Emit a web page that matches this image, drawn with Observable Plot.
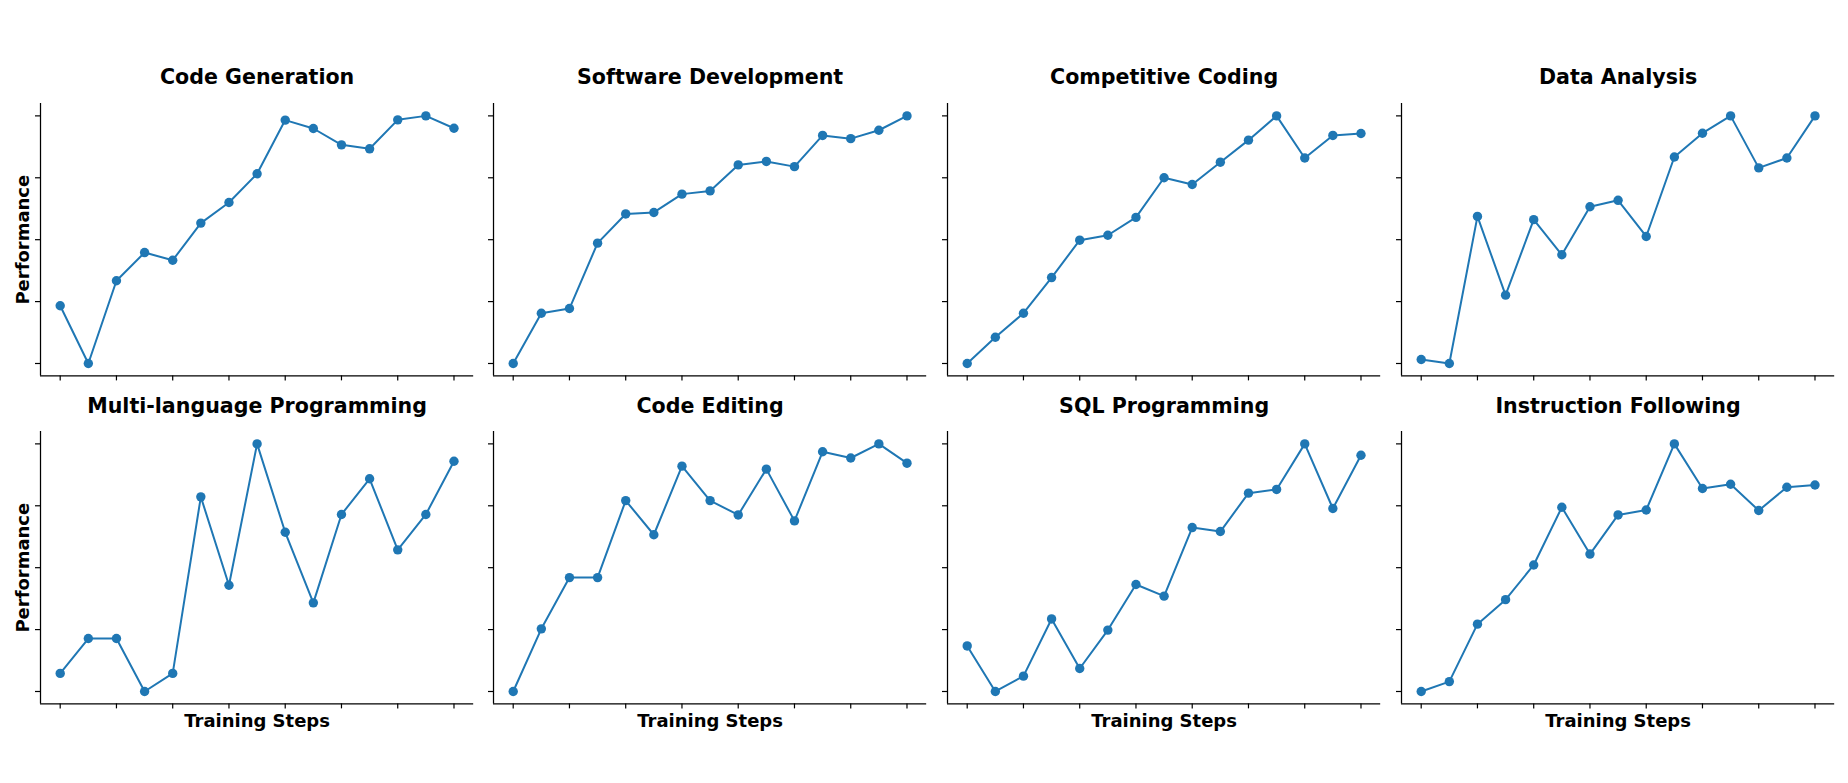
<!DOCTYPE html>
<html>
<head>
<meta charset="utf-8">
<script src="https://cdn.jsdelivr.net/npm/d3@7"></script>
<script src="https://cdn.jsdelivr.net/npm/@observablehq/plot@0.6"></script>
<style>
  html, body { margin: 0; padding: 0; background: #fff; }
  #chart { position: relative; width: 1848px; height: 783px; background: #fff; overflow: hidden; }
  #chart svg { position: absolute; overflow: visible; }
</style>
</head>
<body>
<div id="chart"></div>
<script>
// ---- data ----
const titles = [
  "Code Generation", "Software Development", "Competitive Coding", "Data Analysis",
  "Multi-language Programming", "Code Editing", "SQL Programming", "Instruction Following"
];
const steps = [0, 1, 2, 3, 4, 5, 6, 7, 8, 9, 10, 11, 12, 13, 14];
const codeGeneration      = [0.233, 0.000, 0.334, 0.448, 0.417, 0.567, 0.650, 0.766, 0.983, 0.949, 0.883, 0.867, 0.984, 1.000, 0.950];
const softwareDevelopment = [0.000, 0.203, 0.222, 0.486, 0.604, 0.610, 0.684, 0.697, 0.802, 0.816, 0.795, 0.921, 0.908, 0.942, 1.000];
const competitiveCoding   = [0.000, 0.106, 0.203, 0.347, 0.498, 0.518, 0.590, 0.750, 0.723, 0.813, 0.902, 1.000, 0.830, 0.921, 0.929];
const dataAnalysis        = [0.016, 0.000, 0.594, 0.276, 0.581, 0.439, 0.633, 0.659, 0.513, 0.834, 0.930, 1.000, 0.790, 0.830, 1.000];
const multiLanguage       = [0.073, 0.214, 0.214, 0.000, 0.073, 0.786, 0.429, 1.000, 0.643, 0.358, 0.715, 0.859, 0.572, 0.715, 0.930];
const codeEditing         = [0.000, 0.253, 0.460, 0.460, 0.771, 0.633, 0.910, 0.771, 0.713, 0.898, 0.689, 0.968, 0.943, 1.000, 0.922];
const sqlProgramming      = [0.184, 0.000, 0.062, 0.293, 0.093, 0.248, 0.432, 0.385, 0.662, 0.646, 0.801, 0.816, 1.000, 0.739, 0.954];
const instructionFollowing= [0.000, 0.040, 0.272, 0.371, 0.511, 0.744, 0.555, 0.713, 0.733, 1.000, 0.820, 0.837, 0.731, 0.825, 0.834];
const seriesList = [codeGeneration, softwareDevelopment, competitiveCoding, dataAnalysis,
                    multiLanguage, codeEditing, sqlProgramming, instructionFollowing];
const xTicks = [0, 2, 4, 6, 8, 10, 12, 14];
const yTicks = [0, 0.25, 0.5, 0.75, 1];
const yLabel = "Performance";
const xLabel = "Training Steps";

// ---- layout ----
const xDomain = [-0.7, 14.7];
const yDomain = [-0.05, 1.05];
const colLeft = [39.5, 493.3, 946.8, 1401];
const rowTop = [102.7, 430.7];
const plotW = 433.2;
const plotH = 272.4;
const color = "#1f77b4";
const font = "DejaVu Sans, sans-serif";

const container = document.getElementById("chart");

seriesList.forEach((vals, k) => {
  const row = Math.floor(k / 4), col = k % 4;
  const ML = col === 0 ? 40 : 12, MR = 6, MT = 50, MB = 45;
  const table = vals.map((v, i) => ({ step: steps[i], value: v }));
  const marks = [
    Plot.axisX({ ticks: xTicks, tickFormat: () => "", tickSize: 5, strokeWidth: 1.2, label: null }),
    Plot.axisY({ ticks: yTicks, tickFormat: () => "", tickSize: 5, strokeWidth: 1.2, label: null }),
    Plot.ruleX([xDomain[0]], { stroke: "black", strokeWidth: 1.25 }),
    Plot.ruleY([yDomain[0]], { stroke: "black", strokeWidth: 1.25 }),
    Plot.line(table, { x: "step", y: "value", stroke: color, strokeWidth: 2 }),
    Plot.dot(table, { x: "step", y: "value", fill: color, r: 4.7, stroke: "none" }),
    Plot.text([titles[k]], { frameAnchor: "top", lineAnchor: "middle", textAnchor: "middle",
      dy: row === 0 ? -26 : -25, fontSize: 20.6, fontWeight: "bold", fill: "black" })
  ];
  if (col === 0) {
    marks.push(Plot.text([yLabel], { frameAnchor: "left", lineAnchor: "middle", textAnchor: "middle",
      rotate: -90, dx: -16.8, fontSize: 18, fontWeight: "bold", fill: "black" }));
  }
  if (row === 1) {
    marks.push(Plot.text([xLabel], { frameAnchor: "bottom", lineAnchor: "middle", textAnchor: "middle",
      dy: 17.7, fontSize: 18, fontWeight: "bold", fill: "black" }));
  }
  const svg = Plot.plot({
    width: ML + plotW + MR,
    height: MT + plotH + MB,
    marginLeft: ML, marginRight: MR, marginTop: MT, marginBottom: MB,
    style: { fontFamily: font, color: "black", background: "transparent", overflow: "visible" },
    x: { domain: xDomain },
    y: { domain: yDomain },
    marks
  });
  svg.style.left = (colLeft[col] - ML) + "px";
  svg.style.top = (rowTop[row] - MT) + "px";
  container.appendChild(svg);
});
</script>
</body>
</html>
